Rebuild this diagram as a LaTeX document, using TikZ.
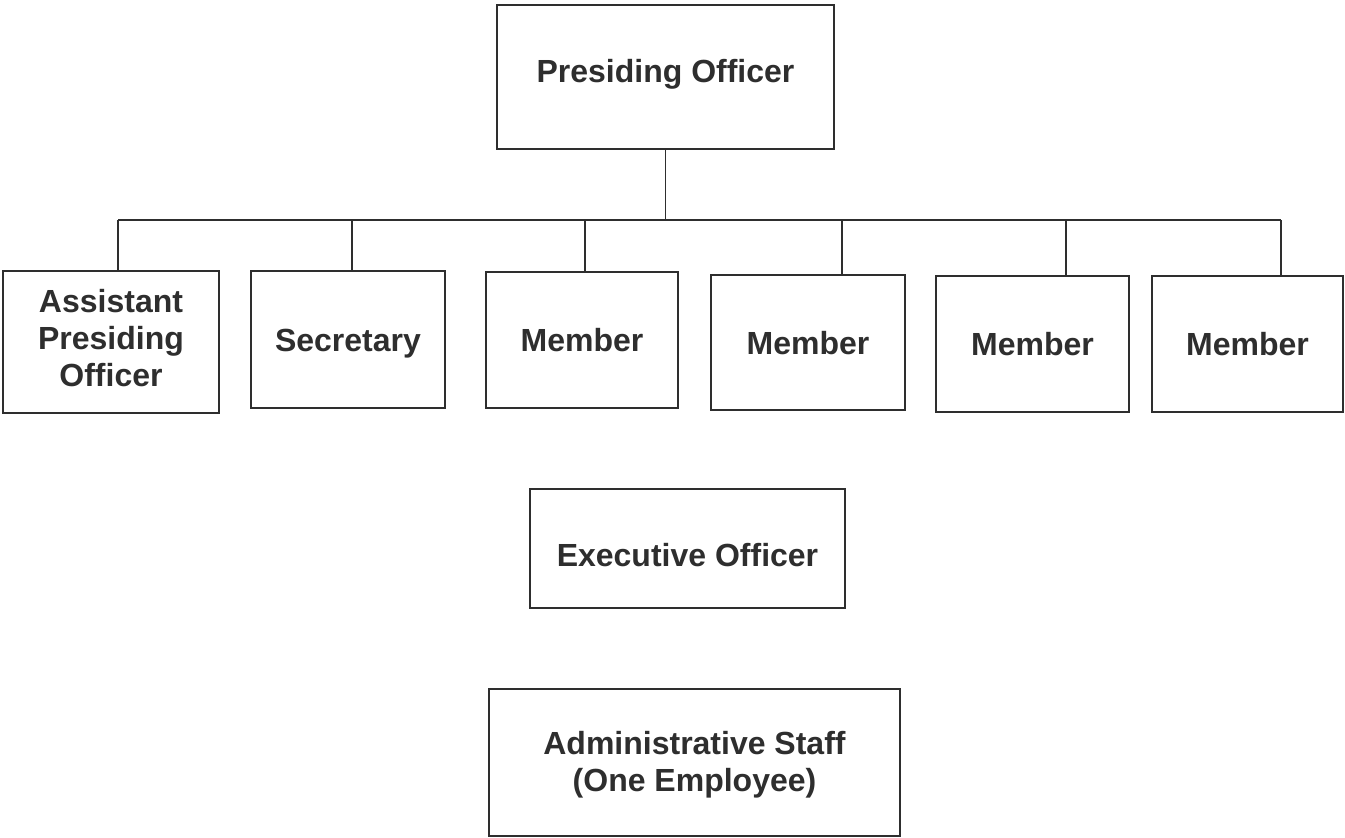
\documentclass[tikz,border=0pt]{standalone}
\usepackage{fontspec}
\setmainfont{Liberation Sans}
\definecolor{ink}{HTML}{2E2E2E}
\newcommand{\boxtext}[2]{\raisebox{#1}[0pt][0pt]{\renewcommand{\arraystretch}{1}\begin{tabular}[b]{@{}c@{}}#2\end{tabular}}}
\begin{document}
\begin{tikzpicture}[x=1pt,y=-1pt,
  box/.style={draw=ink, line width=1.8pt, inner sep=0pt, align=center,
    font=\fontsize{32}{37.3}\selectfont\bfseries, text=ink},
  conn/.style={draw=ink, line width=1.8pt}]
\useasboundingbox (0,0) rectangle (1345,838);
\node[box, minimum width=337, minimum height=144] (PO) at (665.5,77) {\boxtext{-5.7pt}{Presiding Officer}};
\node[box, minimum width=216, minimum height=142] (APO) at (111,342) {\boxtext{-44.7pt}{Assistant\\Presiding\\Officer}};
\node[box, minimum width=194, minimum height=137] (SEC) at (348,339.5) {\boxtext{-12.2pt}{Secretary}};
\node[box, minimum width=192, minimum height=136] (M1) at (582,340) {\boxtext{-11.5pt}{Member}};
\node[box, minimum width=194, minimum height=135] (M2) at (808,342.5) {\boxtext{-12pt}{Member}};
\node[box, minimum width=193, minimum height=136] (M3) at (1032.5,344) {\boxtext{-11.5pt}{Member}};
\node[box, minimum width=191, minimum height=136] (M4) at (1247.5,344) {\boxtext{-11.5pt}{Member}};
\node[box, minimum width=315, minimum height=119] (EO) at (687.5,548.5) {\boxtext{-18.2pt}{Executive Officer}};
\node[box, minimum width=411, minimum height=147] (AS) at (694.5,762.5) {\boxtext{-29.2pt}{Administrative Staff\\(One Employee)}};
\coordinate (b1) at (118,220);
\coordinate (b2) at (352,220);
\coordinate (b3) at (585,220);
\coordinate (b4) at (842,220);
\coordinate (b5) at (1066,220);
\coordinate (b6) at (1281,220);
\draw[conn] (PO.south) -- (PO.south |- b1);
\draw[conn] (b1) -- (b6);
\draw[conn] (b1) -- (b1 |- APO.north);
\draw[conn] (b2) -- (b2 |- SEC.north);
\draw[conn] (b3) -- (b3 |- M1.north);
\draw[conn] (b4) -- (b4 |- M2.north);
\draw[conn] (b5) -- (b5 |- M3.north);
\draw[conn] (b6) -- (b6 |- M4.north);
\end{tikzpicture}
\end{document}
